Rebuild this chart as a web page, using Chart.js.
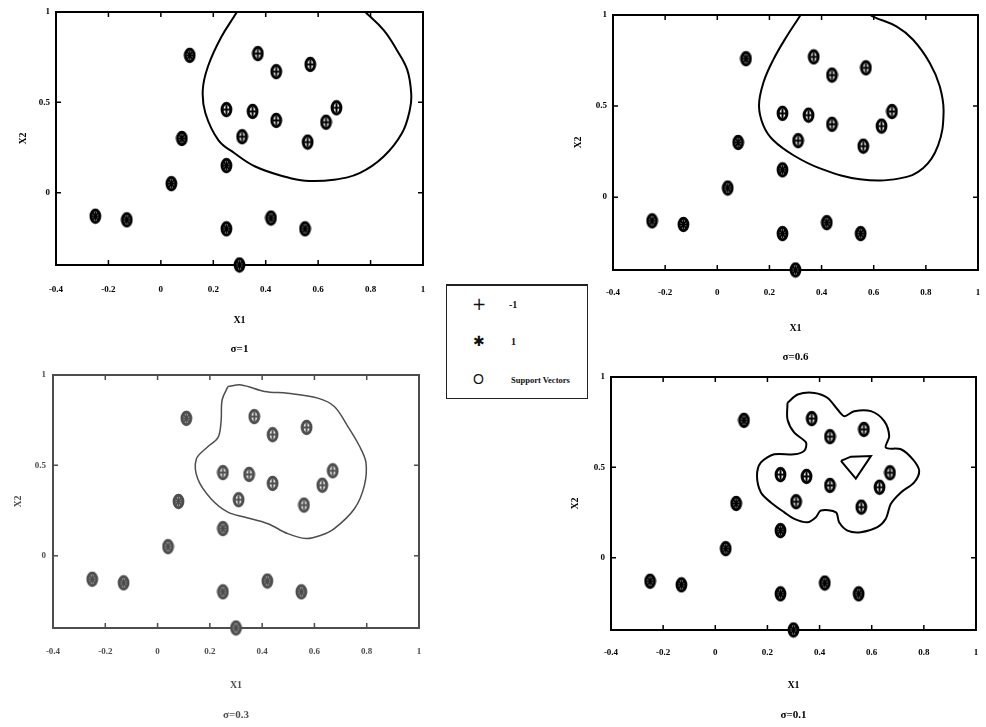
<!DOCTYPE html>
<html>
<head>
<meta charset="utf-8">
<script src="https://cdn.jsdelivr.net/npm/chart.js@4/dist/chart.umd.min.js"></script>
<style>
  html, body { margin: 0; padding: 0; background: #fff; }
  #page { position: relative; width: 986px; height: 727px; overflow: hidden; background: #fff; }
  #page canvas { position: absolute; }
  #legend { position: absolute; left: 446px; top: 284px; width: 140px; height: 112px;
            border: 1.5px solid #222; border-top-width: 2px; background: #fff;
            font-family: "Liberation Serif", serif; color: #111; z-index: 5; }
  #legend span { position: absolute; white-space: nowrap; line-height: 1; }
  .sym { font-family: "DejaVu Sans", sans-serif; }
</style>
</head>
<body>
<div id="page">
  <canvas id="pTL"></canvas>
  <canvas id="pTR"></canvas>
  <canvas id="pBL"></canvas>
  <canvas id="pBR"></canvas>
  <div id="legend">
    <span class="sym" style="left:25px;top:10px;font-size:17px;">+</span>
    <span style="left:62px;top:14px;font-size:10px;font-weight:bold;">-1</span>
    <span class="sym" style="left:26px;top:48px;font-size:14px;">&#x2731;</span>
    <span style="left:64px;top:51px;font-size:10px;font-weight:bold;">1</span>
    <span style="left:26px;top:86px;font-size:14px;font-family:'Liberation Sans';">O</span>
    <span style="left:64px;top:90px;font-size:8.5px;font-weight:bold;">Support Vectors</span>
  </div>
</div>
<script>
// Training samples of the two classes
const negX = [0.37, 0.44, 0.57, 0.25, 0.35, 0.44, 0.67, 0.63, 0.31, 0.56];
const negY = [0.77, 0.67, 0.71, 0.46, 0.45, 0.40, 0.47, 0.39, 0.31, 0.28];
const posX = [0.11, 0.08, 0.25, 0.04, -0.25, -0.13, 0.25, 0.42, 0.55, 0.30];
const posY = [0.76, 0.30, 0.15, 0.05, -0.13, -0.15, -0.20, -0.14, -0.20, -0.40];

// Every sample ends up as a support vector
const svX = negX.concat(posX);
const svY = negY.concat(posY);

// Axis ticks
const xTicks = [-0.4, -0.2, 0, 0.2, 0.4, 0.6, 0.8, 1];
const yTicks = [0, 0.5, 1];

// Panel captions
const captions = ['\u03C3=1', '\u03C3=0.6', '\u03C3=0.3', '\u03C3=0.1'];

// Decision boundaries for each kernel width
const bound1X = [0.30, 0.29, 0.23, 0.18, 0.16, 0.17, 0.22, 0.28, 0.36, 0.47, 0.55, 0.66, 0.76, 0.85, 0.92, 0.95, 0.955, 0.94, 0.90, 0.85, 0.78, 0.76];
const bound1Y = [1.03, 1.00, 0.86, 0.70, 0.57, 0.44, 0.29, 0.22, 0.145, 0.09, 0.066, 0.072, 0.11, 0.20, 0.33, 0.46, 0.55, 0.68, 0.79, 0.90, 1.00, 1.03];

const bound06X = [0.33, 0.317, 0.266, 0.215, 0.177, 0.160, 0.177, 0.215, 0.292, 0.394, 0.547, 0.700, 0.789, 0.847, 0.868, 0.853, 0.815, 0.751, 0.687, 0.60, 0.55];
const bound06Y = [1.03, 0.995, 0.882, 0.755, 0.629, 0.502, 0.393, 0.312, 0.23, 0.158, 0.098, 0.103, 0.158, 0.284, 0.466, 0.61, 0.737, 0.864, 0.937, 0.99, 1.03];

const bound03X = [0.269, 0.32, 0.409, 0.498, 0.613, 0.676, 0.727, 0.772, 0.797, 0.791, 0.753, 0.676, 0.625, 0.568, 0.498, 0.422, 0.332, 0.269, 0.205, 0.154, 0.148, 0.192, 0.231, 0.243, 0.247, 0.269];
const bound03Y = [0.936, 0.945, 0.909, 0.899, 0.872, 0.826, 0.717, 0.607, 0.516, 0.388, 0.26, 0.15, 0.113, 0.095, 0.122, 0.177, 0.214, 0.241, 0.314, 0.424, 0.534, 0.603, 0.653, 0.744, 0.863, 0.936];

const bound01X = [0.277, 0.316, 0.38, 0.431, 0.469, 0.495, 0.533, 0.597, 0.648, 0.667, 0.654, 0.712, 0.757, 0.782, 0.763, 0.712, 0.673, 0.654, 0.622, 0.558, 0.507, 0.475, 0.463, 0.405, 0.386, 0.354, 0.303, 0.265, 0.213, 0.175, 0.16, 0.175, 0.226, 0.303, 0.341, 0.348, 0.303, 0.277, 0.277];
const bound01Y = [0.857, 0.903, 0.912, 0.884, 0.82, 0.783, 0.811, 0.811, 0.756, 0.673, 0.609, 0.6, 0.545, 0.481, 0.417, 0.361, 0.297, 0.215, 0.169, 0.141, 0.15, 0.196, 0.251, 0.261, 0.224, 0.196, 0.215, 0.251, 0.306, 0.361, 0.453, 0.527, 0.572, 0.572, 0.591, 0.637, 0.692, 0.765, 0.857];
const hole01X = [0.482, 0.52, 0.597, 0.539, 0.482];
const hole01Y = [0.536, 0.559, 0.563, 0.438, 0.536];

Chart.defaults.font.family = '"Liberation Serif", serif';
Chart.defaults.animation = false;

const toPts = (xs, ys) => xs.map((v, i) => ({ x: v, y: ys[i] }));

// Oval marker glyphs: ring for support vectors, cross / asterisk for the classes
function marker(kind, color) {
  const c = document.createElement('canvas');
  c.width = 13; c.height = 17;
  const g = c.getContext('2d');
  const cx = 6.5, cy = 8.5;
  g.strokeStyle = color;
  if (kind === 'ring') {
    g.beginPath();
    g.ellipse(cx, cy, 4.4, 6.2, 0, 0, Math.PI * 2);
    g.fillStyle = '#fff';
    g.fill();
    g.lineWidth = 3;
    g.stroke();
  } else {
    g.lineWidth = 2;
    g.beginPath();
    g.moveTo(cx, cy - 5); g.lineTo(cx, cy + 5);
    g.moveTo(cx - 3.8, cy); g.lineTo(cx + 3.8, cy);
    g.stroke();
    if (kind === 'star') {
      g.lineWidth = 1.9;
      g.beginPath();
      g.moveTo(cx - 3, cy - 4); g.lineTo(cx + 3, cy + 4);
      g.moveTo(cx + 3, cy - 4); g.lineTo(cx - 3, cy + 4);
      g.stroke();
    }
  }
  return c;
}

// Box around the plot with inward tick marks on all four sides
function framePlugin(tone) {
  return {
    id: 'frame',
    beforeDatasetsDraw(chart) {
      const { ctx, chartArea: ca, scales } = chart;
      ctx.save();
      ctx.strokeStyle = tone;
      ctx.lineWidth = 2;
      ctx.strokeRect(ca.left, ca.top, ca.right - ca.left, ca.bottom - ca.top);
      ctx.lineWidth = 1.5;
      ctx.beginPath();
      xTicks.forEach(v => {
        const px = scales.x.getPixelForValue(v);
        ctx.moveTo(px, ca.top); ctx.lineTo(px, ca.top + 5);
        ctx.moveTo(px, ca.bottom); ctx.lineTo(px, ca.bottom - 5);
      });
      yTicks.forEach(v => {
        const py = scales.y.getPixelForValue(v);
        ctx.moveTo(ca.left, py); ctx.lineTo(ca.left + 5, py);
        ctx.moveTo(ca.right, py); ctx.lineTo(ca.right - 5, py);
      });
      ctx.stroke();
      ctx.restore();
    }
  };
}

function drawPanel(id, geo, curves, caption, tone, lineW) {
  const cv = document.getElementById(id);
  const { x: cx, y: cy, w: cw, h: ch } = geo.canvas;
  cv.width = cw; cv.height = ch;
  cv.style.left = cx + 'px'; cv.style.top = cy + 'px';
  const a = geo.area;
  const capLH = 11 * 1.2, xtLH = 10 * 1.2, tickLH = 9 * 1.2;
  const capPadBottom = (cy + ch) - geo.capY - capLH / 2;
  const capTop = (cy + ch) - capLH - capPadBottom;
  const xAxisH = capTop - a.b;
  const xTitlePad = capTop - geo.xTitleY - xtLH / 2;
  const xTickGap = geo.tickY - a.b - tickLH / 2;
  const yAxisW = a.l - cx;
  const yTickGap = a.l - geo.yLabelRight;
  const yTitlePad = geo.yTitleX - cx - xtLH / 2;

  const datasets = [
    { label: '-1', data: toPts(negX, negY), pointStyle: marker('plus', tone),
      pointRadius: 6, showLine: false, order: 0, clip: false },
    { label: '1', data: toPts(posX, posY), pointStyle: marker('star', tone),
      pointRadius: 6, showLine: false, order: 0, clip: false },
    { label: 'Support Vectors', data: toPts(svX, svY), pointStyle: marker('ring', tone),
      pointRadius: 7, showLine: false, order: 1, clip: false }
  ];
  curves.forEach(c => datasets.push({
    label: 'boundary', data: toPts(c.x, c.y), showLine: true, pointRadius: 0,
    borderColor: tone, borderWidth: lineW, tension: c.t, fill: false, order: 2, clip: 0
  }));

  // The gap between axis and labels is made with an invisible tick mark,
  // so the label padding does not eat into the plot width.
  const hiddenGrid = len => ({ display: true, drawOnChartArea: false, drawTicks: true,
                               tickLength: len, color: 'rgba(0,0,0,0)' });

  new Chart(cv, {
    type: 'scatter',
    data: { datasets },
    options: {
      responsive: false,
      animation: false,
      layout: { padding: { top: a.t - cy, right: (cx + cw) - a.r, left: 0, bottom: 0 } },
      plugins: {
        legend: { display: false },
        tooltip: { enabled: false },
        title: {
          display: true, text: caption, position: 'bottom', fullSize: false,
          color: tone, font: { size: 11, weight: 'bold' },
          padding: { top: 0, bottom: capPadBottom }
        }
      },
      scales: {
        x: {
          type: 'linear', min: -0.4, max: 1,
          grid: hiddenGrid(xTickGap),
          border: { display: false },
          afterBuildTicks: s => { s.ticks = xTicks.map(v => ({ value: v })); },
          afterFit: s => { s.height = xAxisH; },
          ticks: { color: tone, font: { size: 9, weight: 'bold' }, padding: 0,
                   maxRotation: 0, autoSkip: false, callback: v => String(v) },
          title: { display: true, text: 'X1', color: tone, font: { size: 10, weight: 'bold' },
                   padding: { top: 0, bottom: xTitlePad } }
        },
        y: {
          type: 'linear', min: -0.4, max: 1,
          grid: hiddenGrid(yTickGap),
          border: { display: false },
          afterBuildTicks: s => { s.ticks = yTicks.map(v => ({ value: v })); },
          afterFit: s => { s.width = yAxisW; },
          ticks: { color: tone, font: { size: 9, weight: 'bold' }, padding: 0,
                   autoSkip: false, callback: v => String(v) },
          title: { display: true, text: 'X2', color: tone, font: { size: 10, weight: 'bold' },
                   padding: { top: yTitlePad, bottom: 0 } }
        }
      }
    },
    plugins: [framePlugin(tone)]
  });
}

drawPanel('pTL',
  { canvas: { x: 0, y: 0, w: 440, h: 362 }, area: { l: 56, r: 423, t: 12, b: 265 },
    tickY: 290, xTitleY: 320, capY: 349, yLabelRight: 50, yTitleX: 23 },
  [{ x: bound1X, y: bound1Y, t: 0.4 }], captions[0], '#000', 2);

drawPanel('pTR',
  { canvas: { x: 540, y: 0, w: 446, h: 370 }, area: { l: 613, r: 978, t: 15, b: 270 },
    tickY: 293, xTitleY: 328, capY: 357, yLabelRight: 607, yTitleX: 578 },
  [{ x: bound06X, y: bound06Y, t: 0.4 }], captions[1], '#000', 2);

drawPanel('pBL',
  { canvas: { x: 0, y: 362, w: 440, h: 365 }, area: { l: 53, r: 419, t: 375, b: 628 },
    tickY: 652, xTitleY: 685, capY: 715, yLabelRight: 46, yTitleX: 18 },
  [{ x: bound03X, y: bound03Y, t: 0.35 }], captions[2], '#4d4d4d', 1.5);

drawPanel('pBR',
  { canvas: { x: 540, y: 362, w: 446, h: 365 }, area: { l: 611, r: 976, t: 377, b: 630 },
    tickY: 653, xTitleY: 685, capY: 715, yLabelRight: 605, yTitleX: 575 },
  [{ x: bound01X, y: bound01Y, t: 0.3 }, { x: hole01X, y: hole01Y, t: 0 }], captions[3], '#000', 2);
</script>
</body>
</html>
